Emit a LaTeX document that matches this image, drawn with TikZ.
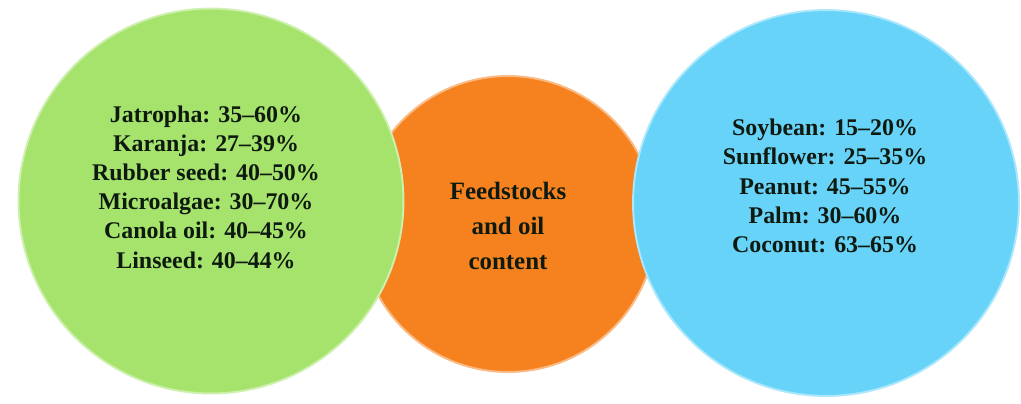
\documentclass[tikz,border=0pt]{standalone}
\usepackage{fontspec}
\setmainfont{Liberation Serif}
\usetikzlibrary{positioning}
\definecolor{leaf}{HTML}{A6E36C}
\definecolor{amber}{HTML}{F5821F}
\definecolor{sky}{HTML}{68D3F9}
\definecolor{ink}{HTML}{0E1A10}

\begin{document}
\begin{tikzpicture}[
  x=0.02cm, y=-0.02cm,
  blob/.style={circle, draw=#1!55!white, fill=#1, line width=1.1pt, inner sep=0pt},
  crop/.style={font=\bfseries\fontsize{13.6}{16.6}\selectfont, text=ink, align=center},
  hub/.style={font=\bfseries\fontsize{14.2}{19.8}\selectfont, text=ink, align=center}
]
\useasboundingbox (0,0) rectangle (1021,403);

% middle circle sits behind the two outer ones
\node[blob=amber, minimum size=5.92cm] (core) at (508,224) {};
\node[blob=leaf, minimum size=7.7cm] (nonedible) at (211,201) {};
\node[blob=sky, minimum size=7.72cm] (edible) at (826,203) {};

\node[hub] (coretext) at (508,226) {Feedstocks\\and oil\\content};

\node[crop] (nonediblelist) at (206,187) {Jatropha: 35--60\%\\
  Karanja: 27--39\%\\
  Rubber seed: 40--50\%\\
  Microalgae: 30--70\%\\
  Canola oil: 40--45\%\\
  Linseed: 40--44\%};

\node[crop] (ediblelist) at (825,186) {Soybean: 15--20\%\\
  Sunflower: 25--35\%\\
  Peanut: 45--55\%\\
  Palm: 30--60\%\\
  Coconut: 63--65\%};
\end{tikzpicture}
\end{document}
